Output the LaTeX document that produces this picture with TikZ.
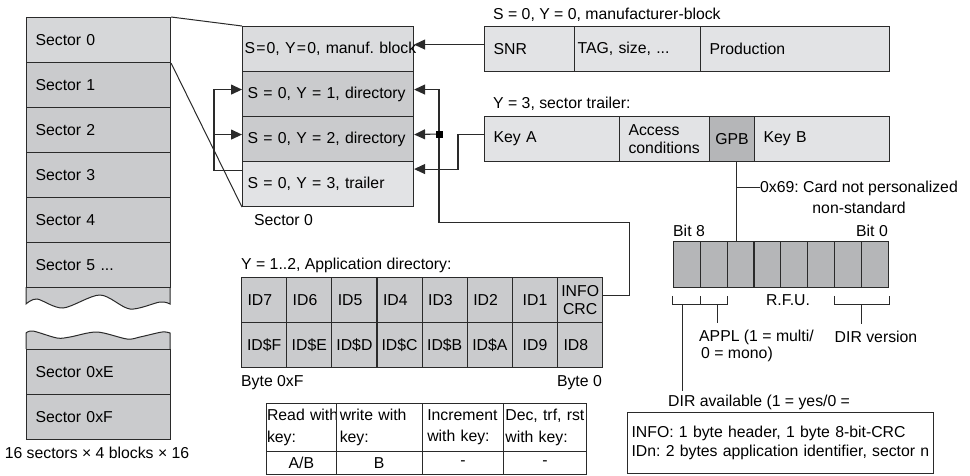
\documentclass[tikz,border=0pt]{standalone}
\usepackage{fontspec}
\setmainfont{Liberation Sans}
\usetikzlibrary{arrows.meta}

\definecolor{secgray}{HTML}{CACBCD}
\definecolor{seclight}{HTML}{D6D7D9}
\definecolor{rowmid}{HTML}{DBDCDE}
\definecolor{rowlight}{HTML}{E2E3E5}
\definecolor{bitgray}{HTML}{B5B6B8}
\definecolor{linegray}{HTML}{2A2A2A}
\newcommand{\ieq}{\kern1.2pt=\kern1.2pt}
\frenchspacing

\begin{document}
\begin{tikzpicture}[x=1pt, y=-1pt,
    font=\fontsize{15.8}{18}\selectfont,
    cell/.style={draw=linegray, line width=1.1pt, anchor=north west, inner ysep=0pt, inner xsep=#1, align=left},
    cell/.default=9pt,
    txt/.style={inner sep=0pt},
    link/.style={draw=linegray, line width=1.1pt},
    brk/.style={draw=linegray, line width=1pt},
    feed/.style={-{Triangle[length=11pt, width=10pt]}},
  ]
  \useasboundingbox (0,0) rectangle (970,475);

  % Broken part of the sector column (drawn first, cells go on top)
  \filldraw[fill=secgray, brk] (26,287) -- (26,304)
    -- plot[smooth] coordinates {(26,304) (37,299) (63,308) (100,295) (130,309) (160,302) (170,304)}
    -- (170,287);
  \filldraw[fill=secgray, brk] (26,349) -- (26,333)
    -- plot[smooth] coordinates {(26,333) (33,331) (57,338) (70,337) (97,332) (127,339) (140,337) (162,332) (170,333)}
    -- (170,349);

  % Sector column (16 sectors)
  \node[cell, fill=seclight, text width=126pt, minimum height=45pt] (s0) at (26,17) {Sector 0};
  \node[cell, fill=secgray, text width=126pt, minimum height=45pt] (s1) at (26,62) {Sector 1};
  \node[cell, fill=secgray, text width=126pt, minimum height=45pt] (s2) at (26,107) {Sector 2};
  \node[cell, fill=secgray, text width=126pt, minimum height=45pt] (s3) at (26,152) {Sector 3};
  \node[cell, fill=secgray, text width=126pt, minimum height=45pt] (s4) at (26,197) {Sector 4};
  \node[cell, fill=secgray, text width=126pt, minimum height=45pt] (s5) at (26,242) {Sector 5 ...};
  \node[cell, fill=secgray, text width=126pt, minimum height=45pt] (s14) at (26,349) {Sector 0xE};
  \node[cell, fill=secgray, text width=126pt, minimum height=45pt] (s15) at (26,394) {Sector 0xF};
  \node[txt] (cap) at (97,453) {16 sectors × 4 blocks × 16};

  % Sector 0, four blocks
  \node[cell=2pt, fill=rowmid, text width=167pt, minimum height=45pt] (d0) at (242,26) {\mbox{S\ieq0, Y\ieq0, manuf.\ block}};
  \node[cell=5pt, fill=secgray, text width=161pt, minimum height=45pt] (d1) at (242,71) {S = 0, Y = 1, directory};
  \node[cell=5pt, fill=secgray, text width=161pt, minimum height=45pt] (d2) at (242,116) {S = 0, Y = 2, directory};
  \node[cell=5pt, fill=rowlight, text width=161pt, minimum height=45pt] (d3) at (242,161) {S = 0, Y = 3, trailer};
  \node[txt] (secz) at (283.5,220) {Sector 0};

  \draw[brk] (s0.north east) -- (d0.north west);
  \draw[brk] (s0.south east) -- (d3.south west);

  % Manufacturer block
  \node[txt, anchor=west] (mbt) at (493,15) {S = 0, Y = 0, manufacturer-block};
  \node[cell, fill=rowlight, text width=72pt, minimum height=45pt] (mb1) at (484,26) {SNR};
  \node[cell=3pt, fill=rowlight, text width=120pt, minimum height=45pt] (mb2) at (574,26) {TAG, size, ...};
  \node[cell, fill=rowlight, text width=171pt, minimum height=45pt] (mb3) at (700,26) {Production};

  % Sector trailer
  \node[txt, anchor=west] (trt) at (493,104) {Y = 3, sector trailer:};
  \node[cell, fill=rowlight, text width=117pt, minimum height=45pt] (tr1) at (484,116) {Key A};
  \node[cell, fill=rowlight, text width=72pt, minimum height=45pt, font=\fontsize{15.8}{17.5}\selectfont] (tr2) at (619,116) {Access\\conditions};
  \node[cell=0pt, fill=bitgray, text width=45pt, minimum height=45pt, align=center] (tr3) at (709,116) {GPB};
  \node[cell, fill=rowlight, text width=117pt, minimum height=45pt] (tr4) at (754,116) {Key B};

  % GPB bits
  \node[txt, anchor=west] (b8) at (673,231) {Bit 8};
  \node[txt, anchor=east] (b0) at (888,231) {Bit 0};
  \node[cell=0pt, fill=bitgray, minimum width=26.9pt, minimum height=45.7pt] (g1) at (672.7,241) {};
  \node[cell=0pt, fill=bitgray, minimum width=26.9pt, minimum height=45.7pt] (g2) at (699.6,241) {};
  \node[cell=0pt, fill=bitgray, minimum width=26.9pt, minimum height=45.7pt] (g3) at (726.5,241) {};
  \node[cell=0pt, fill=bitgray, minimum width=26.9pt, minimum height=45.7pt] (g4) at (753.4,241) {};
  \node[cell=0pt, fill=bitgray, minimum width=26.9pt, minimum height=45.7pt] (g5) at (780.3,241) {};
  \node[cell=0pt, fill=bitgray, minimum width=26.9pt, minimum height=45.7pt] (g6) at (807.2,241) {};
  \node[cell=0pt, fill=bitgray, minimum width=26.9pt, minimum height=45.7pt] (g7) at (834.1,241) {};
  \node[cell=0pt, fill=bitgray, minimum width=26.9pt, minimum height=45.7pt] (g8) at (861.0,241) {};

  \node[txt, anchor=west, align=center, font=\fontsize{15.8}{20.7}\selectfont] (note) at (760,197.5) {0x69: Card not personalized\\non-standard};
  \node[txt] (rfu) at (788,300) {R.F.U.};
  \node[txt, anchor=west] (dira) at (668,402) {DIR available (1 = yes/0 =};
  \node[txt, anchor=west, align=left, font=\fontsize{15.8}{16.3}\selectfont] (appl) at (699,346) {APPL (1 = multi/\\\hspace*{2pt}0 = mono)};
  \node[txt] (dirv) at (876,337) {DIR version};

  % Bit groups
  \draw[brk] ([yshift=-8pt]g1.south west) -- ([yshift=-17pt]g1.south west) -- ([yshift=-17pt]g1.south east) -- ([yshift=-8pt]g1.south east);
  \draw[brk] ([yshift=-17pt]g2.south west) -- ([yshift=-17pt]g2.south east) -- ([yshift=-8pt]g2.south east);
  \draw[brk] ([yshift=-8pt]g7.south west) -- ([yshift=-17pt]g7.south west) -- ([yshift=-17pt]g8.south east) -- ([yshift=-8pt]g8.south east);
  \coordinate (st1) at ([xshift=-4pt, yshift=-17pt]g1.south);
  \coordinate (st2) at ([xshift=4pt, yshift=-17pt]g2.south);
  \coordinate (st3) at ([yshift=-17pt]g8.south west);
  \draw[brk, shorten >=3pt] (st1) -- (st1 |- dira.north);
  \draw[brk, shorten >=7pt] (st2) -- (st2 |- appl.north);
  \draw[brk, shorten >=7pt] (st3) -- (st3 |- dirv.north);

  % Application directory
  \node[txt, anchor=west] (adt) at (241,265) {Y = 1..2, Application directory:};
  \node[cell=6pt, fill=secgray, text width=33.15pt, minimum height=45pt] (a1) at (241,277) {ID7};
  \node[cell=6pt, fill=secgray, text width=33.15pt, minimum height=45pt] (a2) at (286.15,277) {ID6};
  \node[cell=6pt, fill=secgray, text width=33.15pt, minimum height=45pt] (a3) at (331.3,277) {ID5};
  \node[cell=6pt, fill=secgray, text width=33.15pt, minimum height=45pt] (a4) at (376.45,277) {ID4};
  \node[cell=6pt, fill=secgray, text width=33.15pt, minimum height=45pt] (a5) at (421.6,277) {ID3};
  \node[cell=6pt, fill=secgray, text width=33.15pt, minimum height=45pt] (a6) at (466.75,277) {ID2};
  \node[cell=0pt, fill=secgray, text width=45.15pt, minimum height=45pt, align=center] (a7) at (511.9,277) {ID1};
  \node[cell=0pt, fill=secgray, text width=45.15pt, minimum height=45pt, align=center, font=\fontsize{15.8}{18}\selectfont] (a8) at (557.05,277) {INFO\\CRC};
  \node[cell=0pt, fill=secgray, text width=45.15pt, minimum height=45pt, align=center] (a9) at (241,322) {ID\$F};
  \node[cell=0pt, fill=secgray, text width=45.15pt, minimum height=45pt, align=center] (a10) at (286.15,322) {ID\$E};
  \node[cell=0pt, fill=secgray, text width=45.15pt, minimum height=45pt, align=center] (a11) at (331.3,322) {ID\$D};
  \node[cell=0pt, fill=secgray, text width=45.15pt, minimum height=45pt, align=center] (a12) at (376.45,322) {ID\$C};
  \node[cell=0pt, fill=secgray, text width=45.15pt, minimum height=45pt, align=center] (a13) at (421.6,322) {ID\$B};
  \node[cell=0pt, fill=secgray, text width=45.15pt, minimum height=45pt, align=center] (a14) at (466.75,322) {ID\$A};
  \node[cell=0pt, fill=secgray, text width=45.15pt, minimum height=45pt, align=center] (a15) at (511.9,322) {ID9};
  \node[cell=6pt, fill=secgray, text width=33.15pt, minimum height=45pt] (a16) at (557.05,322) {ID8};
  \node[txt, anchor=west] (bf) at (241,383) {Byte 0xF};
  \node[txt, anchor=east] (bz) at (602,383) {Byte 0};

  % Access conditions table
  \node[cell=0.5pt, fill=white, text width=68.7pt, minimum height=48pt, font=\fontsize{15.8}{21.7}\selectfont] (t1) at (266,402.7) {\mbox{Read with}\\key:};
  \node[cell=3.5pt, fill=white, text width=79pt, minimum height=48pt, font=\fontsize{15.8}{21.7}\selectfont] (t2) at (335.7,402.7) {write with\\key:};
  \node[cell=5pt, fill=white, text width=71.6pt, minimum height=48pt, font=\fontsize{15.8}{21.7}\selectfont] (t3) at (421.7,402.7) {\mbox{Increment}\\with key:};
  \node[cell=1.5pt, fill=white, text width=79.4pt, minimum height=48pt, font=\fontsize{15.8}{21.7}\selectfont] (t4) at (503.3,402.7) {\mbox{Dec, trf, rst}\\with key:};
  \node[cell=0pt, fill=white, text width=69.7pt, minimum height=23.3pt, align=center] (t5) at (266,450.7) {A/B};
  \node[cell=0pt, fill=white, text width=86pt, minimum height=23.3pt, align=center] (t6) at (335.7,450.7) {B};
  \node[cell=0pt, fill=white, text width=81.6pt, minimum height=23.3pt, align=center] (t7) at (421.7,450.7) {-};
  \node[cell=0pt, fill=white, text width=82.4pt, minimum height=23.3pt, align=center] (t8) at (503.3,450.7) {-};

  % Legend
  \node[cell=4pt, fill=white, text width=298pt, minimum height=61pt, font=\fontsize{15.8}{19}\selectfont] (info) at (627,412) {INFO: 1 byte header, 1 byte 8-bit-CRC\\IDn: 2 bytes application identifier, sector n};

  % Connectors
  \draw[link, feed] ([yshift=4.5pt]mb1.west) -- ([yshift=4.5pt]d0.east);
  \draw[link, feed] ([yshift=4.5pt]tr1.west) -- ++(-26,0) |- ([yshift=15pt]d3.east);

  \draw[link, feed] ([yshift=14pt]d3.west) -- ++(-28,0) coordinate (lb) |- ([yshift=4.5pt]d1.west);
  \coordinate (d2in) at ([yshift=4.5pt]d2.west);
  \draw[link, feed] (lb |- d2in) -- (d2in);

  \coordinate (jn) at (439,134);
  \draw[link, feed] ([yshift=4.5pt]a8.east) -- ++(26,0) -- ++(0,-73) -| (jn) |- ([yshift=4.5pt]d1.east);
  \draw[link, feed] (jn) -- ([yshift=4.5pt]d2.east);
  \node[fill=black, inner sep=0pt, minimum size=7pt] (jsq) at (jn) {};

  \coordinate (gp) at ([xshift=4.5pt]tr3.south);
  \draw[link] (gp) -- (gp |- g3.north);
  \coordinate (gk) at ([yshift=-25pt]gp);
  \draw[link] (gk) -- (gk -| note.west);
\end{tikzpicture}
\end{document}
